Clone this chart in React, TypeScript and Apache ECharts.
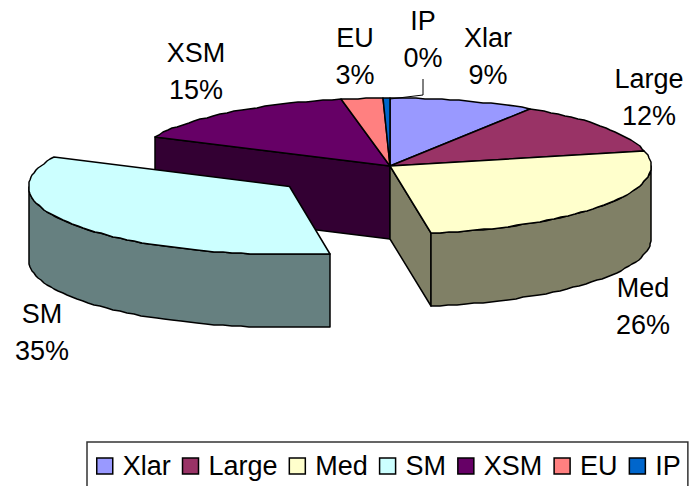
import React, { useEffect, useRef } from "react";
import * as echarts from "echarts";

const categories = ["Xlar", "Large", "Med", "SM", "XSM", "EU", "IP"];
const shares = [9.0, 12.4, 26.1, 34.6, 14.9, 2.6, 0.4];
const colors = ["#9999FF", "#993366", "#FFFFCC", "#CCFFFF", "#660066", "#FF8080", "#0066CC"];
const sideColors = ["#4D4D80", "#4D1A33", "#808066", "#668080", "#330033", "#804040", "#003366"];
const explodeShift = [[0, 0], [0, 0], [0, 0], [-100.5, 20.5], [0, 0], [0, 0], [0, 0]];
const drawOrder = [4, 0, 1, 5, 6, 2, 3];
const labelCentres = [[488, 38], [649, 79], [643, 288], [42, 314], [196, 53], [355, 38], [423, 21]];

const CX = 390, CY = 166, RX = 261, RY = 68, DEPTH = 73;
const FONT = '"Liberation Sans", Arial, sans-serif';
const FONT_SIZE = 27;

const cumulative: number[] = [];
shares.reduce((sum, v, i) => { cumulative[i] = sum; return sum + v; }, 0);
const total = shares.reduce((a, b) => a + b, 0);
const startAngle = (i: number) => (cumulative[i] / total) * 360;
const endAngle = (i: number) => ((cumulative[i] + shares[i]) / total) * 360;

const pt = (deg: number, ox: number, oy: number, dy = 0) => {
  const r = (deg * Math.PI) / 180;
  return [Math.round(ox + RX * Math.sin(r)), Math.round(oy - RY * Math.cos(r) + dy)];
};
const arc = (a: number, b: number, ox: number, oy: number, dy = 0) => {
  const n = Math.max(1, Math.ceil((b - a) / 2));
  const pts: number[][] = [];
  for (let k = 0; k <= n; k++) pts.push(pt(a + ((b - a) * k) / n, ox, oy, dy));
  return pts;
};

const outline = { stroke: "#000", lineWidth: 1.5, lineJoin: "round" };

function renderSlice(i: number) {
  return () => {
    const [sx, sy] = explodeShift[i];
    const ox = CX + sx, oy = CY + sy;
    const a = startAngle(i), b = endAngle(i);
    const children: any[] = [];
    const poly = (points: number[][], fill: string) =>
      children.push({ type: "polygon", shape: { points }, style: { fill, ...outline } });
    const neighbourShift = (j: number) => {
      const n = (j + shares.length) % shares.length;
      return explodeShift[n][0] !== 0 || explodeShift[n][1] !== 0;
    };
    const centreTop = [ox, oy], centreBottom = [ox, oy + DEPTH];
    const self = sx !== 0 || sy !== 0;
    const sinA = Math.sin((a * Math.PI) / 180), sinB = Math.sin((b * Math.PI) / 180);
    if (sinA < 0 && (self || neighbourShift(i - 1))) {
      const p = pt(a, ox, oy);
      poly([centreTop, p, [p[0], p[1] + DEPTH], centreBottom], sideColors[i]);
    }
    if (sinB > 0 && (self || neighbourShift(i + 1))) {
      const p = pt(b, ox, oy);
      poly([centreTop, p, [p[0], p[1] + DEPTH], centreBottom], sideColors[i]);
    }
    const ra = Math.max(a, 90), rb = Math.min(b, 270);
    if (rb > ra) {
      const top = arc(ra, rb, ox, oy);
      const bottom = arc(ra, rb, ox, oy, DEPTH).reverse();
      poly([...top, ...bottom], sideColors[i]);
    }
    poly([centreTop, ...arc(a, b, ox, oy)], colors[i]);
    return { type: "group", children };
  };
}

export default function App() {
  const ref = useRef<HTMLDivElement>(null);
  useEffect(() => {
    const chart = echarts.init(ref.current!, undefined, { renderer: "svg" });
    const labels = categories.map((name, i) => ({
      type: "text",
      x: labelCentres[i][0],
      y: labelCentres[i][1] - 18,
      z: 50,
      style: {
        text: `${name}\n${Math.round(shares[i])}%`,
        font: `${FONT_SIZE}px ${FONT}`,
        lineHeight: 36.5,
        fill: "#000",
        align: "center",
        verticalAlign: "top",
      },
    }));
    chart.setOption({
      animation: false,
      backgroundColor: "#fff",
      legend: {
        data: categories,
        left: 87,
        top: 442,
        orient: "horizontal",
        icon: "rect",
        itemWidth: 16,
        itemHeight: 16,
        itemGap: 11,
        padding: [9, 7, 9, 9],
        borderColor: "#333",
        borderWidth: 1.5,
        selectedMode: false,
        itemStyle: { borderColor: "#000", borderWidth: 1.5 },
        textStyle: { fontFamily: FONT, fontSize: FONT_SIZE, color: "#000", padding: [0, 0, 0, 5], lineHeight: 30 },
      },
      series: drawOrder.map((i, order) => ({
        type: "custom",
        name: categories[i],
        coordinateSystem: "none",
        z: 2 + order,
        silent: true,
        itemStyle: { color: colors[i] },
        data: [shares[i]],
        renderItem: renderSlice(i),
      })),
      graphic: [
        ...labels,
        {
          type: "polyline",
          z: 40,
          shape: { points: [[423, 79], [423, 95], [390, 99]] },
          style: { stroke: "#000", lineWidth: 1, fill: "none" },
        },
      ],
    });
    return () => chart.dispose();
  }, []);
  return <div ref={ref} style={{ width: 689, height: 486, position: "absolute", left: 0, top: 0 }} />;
}
